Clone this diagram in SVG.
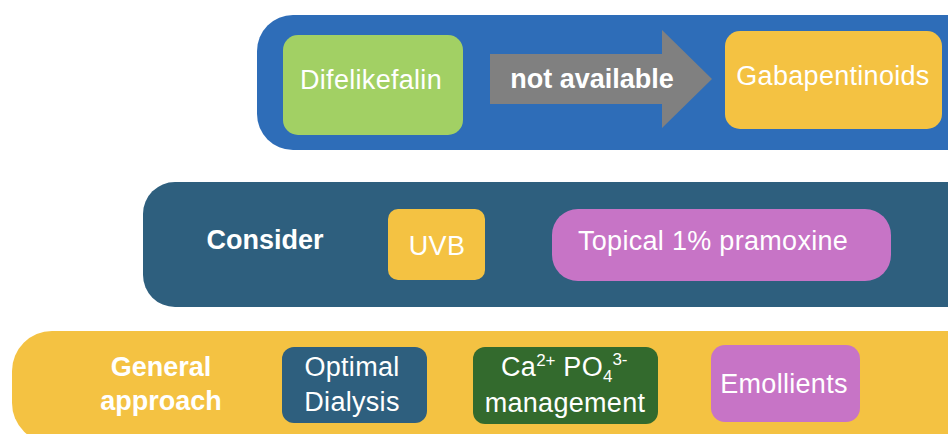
<svg xmlns="http://www.w3.org/2000/svg" width="948" height="434" viewBox="0 0 948 434">
  <style>
    text { font-family: "Liberation Sans", Arial, sans-serif; fill: #ffffff; }
    .lbl { font-size: 27px; letter-spacing: 0.3px; }
    .bold { font-size: 27px; font-weight: bold; }
    .mid { text-anchor: middle; }
    .sup { font-size: 17px; letter-spacing: 0; }
  </style>

  <!-- tier bands -->
  <g id="tier-top">
    <rect x="257" y="15" width="740" height="135" rx="36" fill="#2E6DB8"/>
  </g>
  <g id="tier-middle">
    <rect x="143" y="182" width="860" height="125" rx="32" fill="#2E5F7E"/>
  </g>
  <g id="tier-bottom">
    <rect x="12" y="331" width="990" height="112" rx="40" fill="#F4C242"/>
  </g>

  <!-- top tier nodes -->
  <g id="difelikefalin">
    <rect x="283" y="35" width="180" height="100" rx="15" fill="#A2D064"/>
    <text class="lbl mid" x="371" y="89">Difelikefalin</text>
  </g>
  <g id="gabapentinoids">
    <rect x="725" y="31" width="217" height="98" rx="15" fill="#F4C242"/>
    <text class="lbl mid" x="833" y="85">Gabapentinoids</text>
  </g>

  <!-- connector -->
  <g id="connectors">
    <polygon points="490,54 662,54 662,30 712,79 662,128 662,104 490,104" fill="#808080"/>
    <text class="bold mid" x="592" y="88">not available</text>
  </g>

  <!-- middle tier nodes -->
  <g id="consider">
    <text class="bold mid" x="265" y="249">Consider</text>
  </g>
  <g id="uvb">
    <rect x="388" y="209" width="97" height="71" rx="10" fill="#F4C242"/>
    <text class="lbl mid" x="437" y="255">UVB</text>
  </g>
  <g id="pramoxine">
    <rect x="552" y="209" width="339" height="72" rx="26" fill="#C774C6"/>
    <text class="lbl" x="578" y="250">Topical 1% pramoxine</text>
  </g>

  <!-- bottom tier nodes -->
  <g id="general-approach">
    <text class="bold mid" x="161" y="376">General</text>
    <text class="bold mid" x="161" y="410">approach</text>
  </g>
  <g id="optimal-dialysis">
    <rect x="282" y="347" width="145" height="76" rx="12" fill="#2E5F7E"/>
    <text class="lbl mid" x="352" y="376">Optimal</text>
    <text class="lbl mid" x="352" y="411">Dialysis</text>
  </g>
  <g id="mineral-management">
    <rect x="473" y="347" width="185" height="77" rx="12" fill="#336A2D"/>
    <text class="lbl" x="501" y="376">Ca<tspan class="sup" dy="-10">2+</tspan><tspan dy="10"> PO</tspan><tspan class="sup" dy="6">4</tspan><tspan class="sup" dy="-17">3-</tspan></text>
    <text class="lbl mid" x="565" y="412">management</text>
  </g>
  <g id="emollients">
    <rect x="711" y="345" width="149" height="77" rx="14" fill="#C774C6"/>
    <text class="lbl mid" x="784" y="393">Emollients</text>
  </g>
</svg>
